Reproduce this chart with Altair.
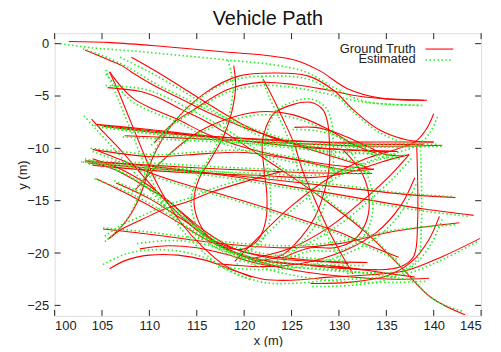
import altair as alt
import pandas as pd

TITLE = "Vehicle Path"
X_TICKS = [100, 105, 110, 115, 120, 125, 130, 135, 140, 145]
Y_TICKS = [0, -5, -10, -15, -20, -25]
SERIES = ["Ground Truth", "Estimated"]

# ---- ground-truth paths (x, y in metres) ----
gt_01 = [(101.5,0.2),(106,0.1),(111.8,-0.3),(118,-0.8),(122.2,-1.1),(125.5,-1.6),(128,-2.6),(130.9,-4.3),(134.4,-5.2),(139.3,-5.4)]
gt_02 = [(105.8,-18.6),(107.5,-17.0),(108.7,-15.2),(109.5,-13.3),(110.2,-11.2),(112.5,-7.6),(115.9,-4.7),(119.4,-3.1),(123.3,-2.8),(126.8,-3.1),(129.5,-4.5),(131.5,-6.3),(134.2,-8.2),(137.2,-9.2),(140,-9.4)]
gt_03 = [(108.1,-1.3),(111,-2.8),(114,-4.5),(117,-6.2),(120,-7.8),(123,-9.0),(126,-9.7),(130,-10.1),(136.2,-10.3)]
gt_04 = [(105.8,-2.7),(106.7,-4.5),(107.6,-6.5),(108.5,-8.5),(109.4,-10.5),(110.5,-12.8),(111.8,-15),(113.5,-17.3),(115.5,-19.3),(118,-21.2),(120.8,-22.3)]
gt_05 = [(105.8,-2.7),(107.1,-4.2),(108.4,-5.3),(110.5,-6.3),(112.9,-7.2),(116,-8.6),(120,-9.9),(124,-10.8),(128.5,-11.5),(133.7,-12.0)]
gt_06 = [(105.6,-4.2),(109.2,-4.6),(111.3,-5.3),(113.4,-6.3),(115.5,-7.2),(118,-8.5),(123,-11.5),(128,-14.6),(132.8,-18),(136.4,-21.2),(139.8,-24.3),(143.3,-25.9)]
gt_07 = [(103.9,-7.2),(105,-8.3),(107.1,-10.3),(109.2,-12.5),(112,-15.3),(115,-17.8),(119,-20),(124,-21.4),(130,-22.2),(136,-22.5),(139.5,-22.4)]
gt_08 = [(104.4,-7.7),(110,-8.2),(116,-8.8),(122,-9.2),(128,-9.4),(134,-9.4),(140,-9.4)]
gt_09 = [(107.4,-8.8),(113,-9.0),(120,-9.3),(127,-9.6),(134,-9.8),(140.9,-9.7)]
gt_10 = [(104.8,-7.8),(112,-8.5),(120,-9.3),(128,-10.0),(136.2,-10.3)]
gt_11 = [(104,-10.1),(107,-10.5),(110.5,-10.8),(116,-10.5),(120,-10.4),(126,-11.2),(131,-12.1),(133.7,-12.0)]
gt_12 = [(103.5,-11.4),(110,-11.9),(117,-12.4),(124,-13.1),(131,-13.8),(137,-14.4),(142.3,-14.7)]
gt_13 = [(103.2,-11.2),(110,-11.7),(118,-12.6),(126,-13.8),(133,-14.9),(139,-15.8),(144.2,-16.4)]
gt_14 = [(104,-11.6),(110,-12.1),(116,-12.4),(122,-12.6),(127,-12.8),(131,-12.3),(134.5,-11.3),(137.4,-10.6)]
gt_15 = [(105.1,-17.7),(110,-18.2),(115,-18.8),(120,-19.3),(125,-19.5),(130,-19.1),(136,-17.9),(142.7,-17.1)]
gt_16 = [(105.8,-21.5),(107.5,-20.7),(110,-20.2),(113,-20.2),(116,-20.7),(119,-21.7),(122,-22.5),(125,-22.6),(129,-22.3),(133,-22.1),(137,-21.7),(141,-20.3),(144.9,-18.6)]
gt_17 = [(103.2,-0.6),(105.3,-1.4),(107.1,-2.1),(108.1,-2.7),(110.5,-4.0),(113.4,-5.3),(116.5,-6.7),(120,-8.0),(124,-9.2),(128,-10.4),(133,-11.8)]
gt_18 = [(118.9,-2.1),(119.1,-4.0),(118.7,-6.5),(117.9,-8.7),(116.5,-11),(115.2,-13),(114.7,-15),(115.2,-17),(116.5,-18.7),(118.2,-19.5),(120,-19.6),(121.5,-18.7),(122.3,-16.8),(122.4,-14.5),(122.1,-12),(121.9,-9.5),(122.3,-8),(123.1,-6.7),(125.2,-5.8),(127,-5.6),(128.3,-6.3),(128.8,-7.5),(129.0,-9.5),(129.0,-11.6),(128.5,-14),(127.5,-16.5),(126,-18.5),(124,-20.2),(121,-20.8)]
gt_19 = [(122,-3.4),(123.1,-5.3),(124.2,-7.4),(125.2,-9.4),(126.2,-12.2),(127.5,-15),(129,-18),(130.5,-20.5),(131.5,-22)]
gt_20 = [(140.0,-6.7),(139.2,-8.2),(138,-9.4),(136,-10.1),(132.8,-11.0),(129,-12.8),(125,-15.5),(121.5,-18.5),(119,-20.8)]
gt_21 = [(138,-12.8),(136.5,-15.5),(134,-18),(130.5,-19.8),(126,-21),(122,-21.3),(117,-21)]
gt_22 = [(140.6,-16.5),(139.5,-18.7),(137.7,-20.8),(135,-22.2),(131,-22.8),(127,-22.9)]
gt_23 = [(138.2,-9.6),(138.3,-13),(138.3,-17),(137.9,-20.3),(136.5,-21.3),(133,-21.6),(129,-21.2)]
gt_24 = [(130.5,-10.2),(132.5,-12.5),(133.2,-15),(132.8,-17.2),(131.5,-18.8),(129.5,-19.5),(127,-19.5),(124,-20.5)]
gt_25 = [(121,-20.5),(125,-19.5),(129,-17.5),(132.5,-15),(135.5,-12.5),(137.4,-10.6)]
gt_26 = [(105.6,-18.7),(107.1,-17.7),(109.2,-16.8),(111.6,-15.8),(114,-15.1),(116.5,-14.2),(120,-13.2),(124,-12.2)]
gt_27 = [(103.5,-11.2),(106,-11.9),(108,-12.8),(110,-13.9),(112,-15),(115,-17.5),(118,-19.5),(122,-20.7),(127,-21.2),(131,-21.5),(134,-21.6)]
gt_28 = [(104.4,-12.9),(108,-14.5),(112,-16.5),(116,-18.7),(120,-20.3),(125,-21),(130,-21.3),(134,-21.8),(138,-22.3)]
gt_29 = [(104.2,-10.1),(107,-11.1),(110,-12.3),(114,-13.5),(118,-14.5),(122,-15.6),(126,-16.8),(130,-18),(133,-19.2),(136.3,-20.4)]
gt_30 = [(108.5,-14),(111,-11.5),(114.7,-8.7),(118.2,-7.2),(121.7,-6.5),(125.2,-6.8),(128.7,-8.1),(131.5,-9.6),(134,-10.5)]
gt_31 = [(110.5,-9.5),(112.5,-7.6),(114.7,-6.3),(118.2,-4.4),(121.7,-3.7),(125.2,-3.9),(128.7,-4.4),(132,-5.0),(135.5,-5.3),(139,-5.4)]
gt_32 = [(125.3,-8.0),(127.5,-8.0),(130,-8.6),(132.5,-9.6),(135,-10.6),(136.8,-10.7)]
gt_33 = [(105.2,-7.9),(112,-8.6),(119,-9.0),(126,-9.3),(133,-9.6),(139,-9.6)]
gt_34 = [(103.8,-11.3),(110,-11.6),(118,-12.0),(126,-12.3),(133.5,-12.4)]
gt_35 = [(104,-11.0),(107,-12.0),(110,-13.6),(113,-15.8),(116,-18.0),(119,-19.6),(123,-20.5),(128,-20.8),(133,-20.9)]
gt_36 = [(106.5,-13.3),(110,-14.8),(113.5,-16.8),(117,-18.9),(121,-20.1),(126,-20.6),(131,-21.0)]
gt_37 = [(109,-19.6),(112,-19.3),(115,-19.5),(118,-20.1),(121,-20.9),(124,-21.4)]

# ---- estimated paths ----
es_01 = [(100.6,0.0),(104,-0.4),(108.3,-0.7),(113,-1.1),(118.7,-1.6),(123,-2.0),(126.5,-2.7),(129.5,-4.2),(132.7,-5.5),(138.6,-5.9)]
es_02 = [(105.3,-18.9),(107.2,-17.3),(108.4,-15.5),(109.2,-13.5),(109.9,-11.4),(112.2,-7.9),(115.6,-5.0),(119.2,-3.4),(123.3,-3.1),(126.8,-3.4),(129.5,-4.8),(131.6,-6.6),(134.3,-8.5),(137.2,-9.5),(140.3,-9.6)]
es_03 = [(106.9,-1.3),(110,-2.7),(113.5,-4.5),(116.8,-6.4),(120,-8.1),(123,-9.3),(126,-10.0),(130,-10.4),(135.8,-10.6)]
es_04 = [(105.4,-2.5),(106.3,-4.4),(107.2,-6.4),(108.1,-8.4),(109.0,-10.5),(110.1,-12.8),(111.4,-15.1),(113.2,-17.5),(115.3,-19.6),(118,-21.5),(120.8,-22.6)]
es_05 = [(105.4,-2.9),(106.9,-4.4),(108.3,-5.6),(110.5,-6.6),(113,-7.5),(116,-8.9),(120,-10.2),(124,-11.1),(128.5,-11.8),(133.3,-12.3)]
es_06 = [(105.4,-4.0),(109.2,-4.3),(111.5,-5.0),(113.7,-6.0),(115.8,-7.0),(118.3,-8.3),(123.3,-11.4),(128.3,-14.6),(133.1,-18.1),(136.7,-21.4),(140.1,-24.5),(143.2,-25.6)]
es_07 = [(103.1,-6.9),(104.4,-8.2),(106.6,-10.4),(108.8,-12.7),(111.7,-15.6),(114.8,-18.2),(119,-20.4),(124,-21.9),(130,-22.7),(136,-22.8),(139.2,-22.7)]
es_08 = [(104.2,-7.8),(110,-8.4),(116,-9.0),(122,-9.4),(128,-9.6),(134,-9.6),(139.6,-9.5)]
es_09 = [(107.2,-8.9),(113,-9.2),(120,-9.5),(127,-9.8),(134,-9.9),(141,-9.8)]
es_10 = [(105,-7.9),(112,-8.7),(120,-9.5),(128,-10.2),(136,-10.6)]
es_11 = [(103.8,-10.0),(107,-10.3),(110.5,-10.6),(116,-10.3),(120,-10.2),(126,-11.0),(131,-12.4),(133.5,-12.3)]
es_12 = [(103.0,-11.3),(110,-11.7),(117,-12.2),(124,-12.9),(131,-13.6),(137,-14.3),(142,-14.6)]
es_13 = [(102.8,-11.3),(110,-11.9),(118,-12.8),(126,-14.0),(133,-15.1),(139,-16.0),(143.8,-16.5)]
es_14 = [(103.6,-11.5),(110,-11.9),(116,-12.2),(122,-12.4),(127,-12.6),(131,-12.0),(134.5,-11.0),(137.2,-10.6)]
es_15 = [(105.1,-17.6),(110,-18.0),(115,-18.6),(120,-19.1),(125,-19.3),(130,-18.9),(136,-17.8),(142.3,-17.3)]
es_16 = [(105.1,-21.1),(107.5,-20.1),(110,-19.7),(113,-19.8),(116,-20.5),(119,-21.9),(122,-22.8),(125,-22.9),(129,-22.6),(133,-22.4),(137,-22.0),(141,-20.6),(144.6,-18.9)]
es_17 = [(103.0,-0.5),(105.2,-1.2),(107.2,-2.0),(108.4,-2.6),(110.8,-3.9),(113.7,-5.2),(116.8,-6.6),(120.3,-7.9),(124.2,-9.1),(128.2,-10.3),(132.8,-11.6)]
es_18 = [(118.3,-1.6),(118.8,-3.8),(118.5,-6.5),(117.6,-8.8),(116.2,-11.1),(114.9,-13.1),(114.4,-15),(114.9,-17.2),(116.3,-19.0),(118.2,-19.9),(120.1,-19.9),(121.8,-18.9),(122.7,-16.9),(122.8,-14.5),(122.5,-12),(122.2,-9.5),(122.6,-7.9),(123.4,-6.4),(125.3,-5.5),(127.1,-5.3),(128.6,-6.1),(129.2,-7.4),(129.4,-9.5),(129.4,-11.6),(128.9,-14.1),(127.9,-16.7),(126.3,-18.8),(124.2,-20.5),(121,-21.1)]
es_19 = [(121.7,-2.8),(122.6,-5.0),(123.8,-7.3),(124.8,-9.4),(125.8,-12.3),(127.1,-15.2),(128.7,-18.2),(130.2,-20.8),(131.2,-22.3)]
es_20 = [(140.4,-7.0),(139.6,-8.5),(138.3,-9.7),(136.2,-10.4),(133,-11.3),(129.2,-13.1),(125.2,-15.8),(121.7,-18.8),(119.2,-21.1)]
es_21 = [(138.3,-13.1),(136.8,-15.8),(134.3,-18.3),(130.7,-20.1),(126.1,-21.3),(122,-21.6),(117,-21.3)]
es_22 = [(140.9,-16.8),(139.8,-19.0),(138,-21.1),(135.2,-22.5),(131.1,-23.1),(127,-23.2)]
es_23 = [(138.6,-9.8),(138.7,-13),(138.7,-17),(138.3,-20.5),(136.8,-21.6),(133.1,-21.9),(129,-21.5)]
es_24 = [(130.8,-10.0),(132.9,-12.4),(133.6,-15),(133.2,-17.4),(131.8,-19.1),(129.6,-19.8),(127,-19.8),(124,-20.8)]
es_25 = [(121,-20.8),(125,-19.8),(129.2,-17.8),(132.8,-15.3),(135.8,-12.8),(137.7,-10.9)]
es_26 = [(105.3,-18.4),(106.9,-17.4),(109.1,-16.5),(111.6,-15.5),(114,-14.8),(116.5,-13.9),(120,-12.9),(124,-11.9)]
es_27 = [(103.2,-11.0),(105.8,-11.7),(107.8,-12.6),(109.8,-13.7),(111.8,-14.9),(114.8,-17.5),(117.9,-19.7),(122,-21.0),(127,-21.5),(131,-21.8),(134,-21.9)]
es_28 = [(104.2,-12.9),(108,-14.3),(112,-16.3),(116,-18.6),(120,-20.5),(125,-21.3),(130,-21.6),(134,-22.1),(137.8,-22.6)]
es_29 = [(104,-10.3),(107,-11.3),(110,-12.5),(114,-13.7),(118,-14.7),(122,-15.8),(126,-17.0),(130,-18.2),(133,-19.4),(136.1,-20.6)]
es_30 = [(108.2,-14.2),(110.7,-11.7),(114.5,-9.0),(118.1,-7.5),(121.7,-6.8),(125.3,-7.1),(128.9,-8.4),(131.7,-9.9),(134.2,-10.8)]
es_31 = [(110.2,-9.7),(112.2,-7.9),(114.5,-6.6),(118.1,-4.7),(121.7,-4.0),(125.3,-4.2),(128.8,-4.8),(132,-5.5),(135.5,-5.8),(138.8,-5.9)]
es_32 = [(125.1,-8.2),(127.5,-8.3),(130,-8.9),(132.5,-9.9),(135,-10.9),(136.6,-11.0)]
es_33 = [(105.0,-8.0),(112,-8.8),(119,-9.2),(126,-9.5),(133,-9.8),(138.7,-9.8)]
es_34 = [(103.4,-11.2),(110,-11.4),(118,-11.8),(126,-12.1),(133.2,-12.2)]
es_35 = [(103.7,-11.2),(106.8,-12.2),(109.8,-13.8),(112.8,-16.0),(115.8,-18.3),(118.9,-19.9),(123,-20.8),(128,-21.1),(132.8,-21.2)]
es_36 = [(106.3,-13.1),(109.9,-14.6),(113.5,-16.6),(117.1,-18.7),(121.1,-19.9),(126,-20.4),(130.8,-20.8)]
es_37 = [(108.7,-19.1),(112,-18.8),(115,-19.0),(118,-19.7),(121,-20.6),(124,-21.1)]

GT_PATHS = [gt_01, gt_02, gt_03, gt_04, gt_05, gt_06, gt_07, gt_08, gt_09, gt_10, gt_11,
            gt_12, gt_13, gt_14, gt_15, gt_16, gt_17, gt_18, gt_19, gt_20, gt_21, gt_22,
            gt_23, gt_24, gt_25, gt_26, gt_27, gt_28, gt_29, gt_30, gt_31, gt_32, gt_33,
            gt_34, gt_35, gt_36, gt_37]
ES_PATHS = [es_01, es_02, es_03, es_04, es_05, es_06, es_07, es_08, es_09, es_10, es_11,
            es_12, es_13, es_14, es_15, es_16, es_17, es_18, es_19, es_20, es_21, es_22,
            es_23, es_24, es_25, es_26, es_27, es_28, es_29, es_30, es_31, es_32, es_33,
            es_34, es_35, es_36, es_37]


def to_frame(paths, series):
    rows = []
    for i, p in enumerate(paths):
        for j, (x, y) in enumerate(p):
            rows.append({"series": series, "path": f"{series}-{i}", "idx": j, "x": x, "y": y})
    return pd.DataFrame(rows)


df_gt = to_frame(GT_PATHS, SERIES[0])
df_es = to_frame(ES_PATHS, SERIES[1])

W, H = 430, 285
FONT = "Liberation Sans"
xs = alt.Scale(domain=[100, 145], nice=False, zero=False)
ys = alt.Scale(domain=[-26, 1], nice=False, zero=False)

x_axis = alt.Axis(values=X_TICKS, ticks=False, domain=False, grid=False, labelFontSize=13,
                  labelColor="#222222", labelFont=FONT, labelPadding=4, title="x (m)",
                  titleFont=FONT, titleFontSize=13, titleFontWeight="normal",
                  titleColor="#222222", titlePadding=2)
y_axis = alt.Axis(values=Y_TICKS, ticks=False, domain=False, grid=False, labelFontSize=13,
                  labelColor="#222222", labelFont=FONT, labelPadding=6, title="y (m)",
                  titleFont=FONT, titleFontSize=13, titleFontWeight="normal",
                  titleColor="#222222", titlePadding=-3)

red = alt.Chart(df_gt).mark_line(color="#ff0000", strokeWidth=1.1, interpolate="catmull-rom",
                                 clip=True).encode(
    x=alt.X("x:Q", scale=xs, axis=x_axis),
    y=alt.Y("y:Q", scale=ys, axis=y_axis),
    detail="path:N",
    order="idx:Q",
)
green = alt.Chart(df_es).mark_line(color="#22ee22", strokeWidth=1.6, strokeDash=[1.5, 2.5],
                                   interpolate="catmull-rom", clip=True).encode(
    x=alt.X("x:Q", scale=xs),
    y=alt.Y("y:Q", scale=ys),
    detail="path:N",
    order="idx:Q",
)

xt = pd.DataFrame({"t": X_TICKS})
yt = pd.DataFrame({"t": Y_TICKS})
tick_style = dict(color="#222222", strokeWidth=1)
xt_bot = alt.Chart(xt).mark_rule(**tick_style).encode(x=alt.X("t:Q", scale=xs), y=alt.value(H), y2=alt.value(H - 6))
xt_top = alt.Chart(xt).mark_rule(**tick_style).encode(x=alt.X("t:Q", scale=xs), y=alt.value(0), y2=alt.value(6))
yt_left = alt.Chart(yt).mark_rule(**tick_style).encode(y=alt.Y("t:Q", scale=ys), x=alt.value(0), x2=alt.value(6))
yt_right = alt.Chart(yt).mark_rule(**tick_style).encode(y=alt.Y("t:Q", scale=ys), x=alt.value(W), x2=alt.value(W - 6))

leg_df = pd.DataFrame({"label": SERIES})
leg_text1 = alt.Chart(leg_df).transform_filter(alt.datum.label == SERIES[0]).mark_text(
    align="right", baseline="middle", font=FONT, fontSize=13, color="#222222").encode(
    text="label:N", x=alt.value(364), y=alt.value(16))
leg_text2 = alt.Chart(leg_df).transform_filter(alt.datum.label == SERIES[1]).mark_text(
    align="right", baseline="middle", font=FONT, fontSize=13, color="#222222").encode(
    text="label:N", x=alt.value(364), y=alt.value(26))
leg_line1 = alt.Chart(leg_df).transform_filter(alt.datum.label == SERIES[0]).mark_rule(
    color="#ff0000", strokeWidth=1.1).encode(x=alt.value(374), x2=alt.value(402), y=alt.value(16))
leg_line2 = alt.Chart(leg_df).transform_filter(alt.datum.label == SERIES[1]).mark_rule(
    color="#22ee22", strokeWidth=1.6, strokeDash=[1.5, 2.5]).encode(
    x=alt.value(374), x2=alt.value(402), y=alt.value(27))

chart = alt.layer(
    red, green, xt_bot, xt_top, yt_left, yt_right, leg_text1, leg_text2, leg_line1, leg_line2
).properties(
    width=W, height=H,
    title=alt.TitleParams(TITLE, font=FONT, fontSize=20, fontWeight="normal", color="#111111",
                          anchor="middle", offset=4),
    padding={"left": 47, "top": 24, "right": 12, "bottom": 30},
    autosize=alt.AutoSizeParams(type="none"),
).configure_view(stroke="#111111", strokeWidth=1.2).configure(background="white")

chart.save("out.html", embed_options={"renderer": "svg", "actions": False})
